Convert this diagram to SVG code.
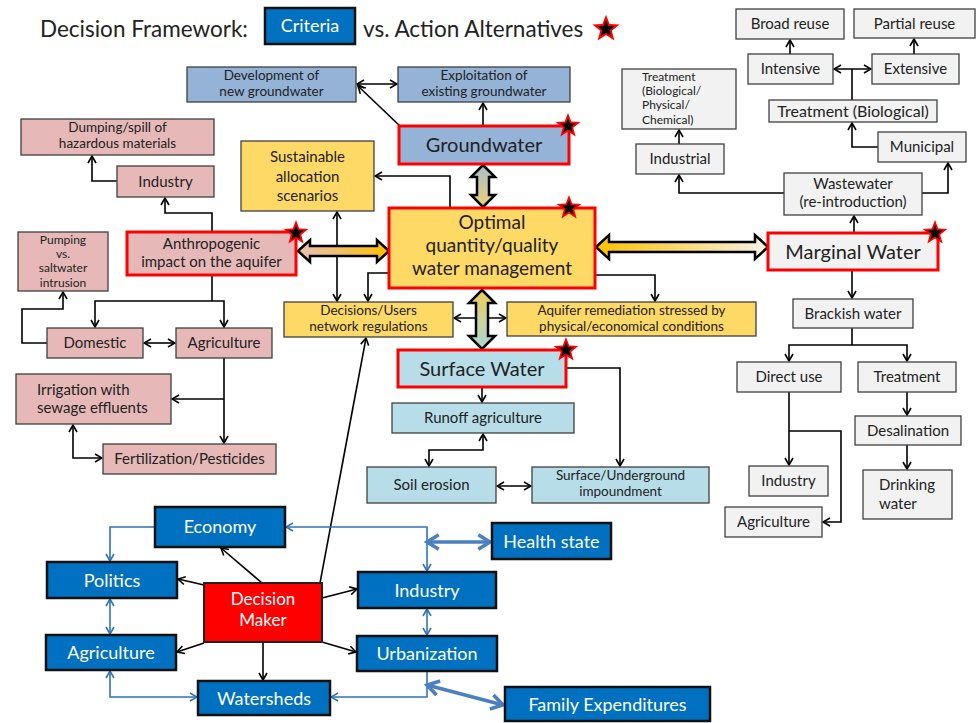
<svg xmlns="http://www.w3.org/2000/svg" xmlns:xlink="http://www.w3.org/1999/xlink" width="977" height="723" viewBox="0 0 977 723">
<style>
text{font-family:Lato,"Liberation Sans",sans-serif;fill:#222;text-anchor:middle;font-size:15px}
.t2{font-size:13.5px}
.t4{font-size:12px}
.b{stroke:#404040;stroke-width:1.3}
.gwb{fill:#95b3d7}.pk{fill:#e6b9b8}.yl{fill:#ffd966}.lb{fill:#b7dee8}.gy{fill:#f2f2f2}
.bl{fill:#0070c0;stroke:#111;stroke-width:2.5}
.rd{stroke:#ff0000;stroke-width:3}
.wt{fill:#fff;font-size:18px}
.big{font-size:20px}
.c{fill:none;stroke:#000;stroke-width:1.6}
.cb{fill:none;stroke:#2e75b6;stroke-width:1.6}
.cbt{fill:none;stroke:#4a7fc0;stroke-width:3.5}
.blk{stroke:#000;stroke-width:2.5}
.st{text-anchor:start}
</style>
<defs>
<marker id="a" viewBox="0 0 10 10" refX="9" refY="5" markerWidth="10" markerHeight="10" markerUnits="userSpaceOnUse" orient="auto-start-reverse"><path d="M2,1 L9,5 L2,9" fill="none" stroke="#000" stroke-width="1.6"/></marker>
<marker id="ab" viewBox="0 0 10 10" refX="9" refY="5" markerWidth="10" markerHeight="10" markerUnits="userSpaceOnUse" orient="auto-start-reverse"><path d="M2,1 L9,5 L2,9" fill="none" stroke="#2e75b6" stroke-width="1.6"/></marker>
<marker id="abt" viewBox="0 0 10 10" refX="8.5" refY="5" markerWidth="18" markerHeight="18" markerUnits="userSpaceOnUse" orient="auto-start-reverse"><path d="M2,1 L8.5,5 L2,9" fill="none" stroke="#4a7fc0" stroke-width="2"/></marker>
<g id="star"><polygon points="0,-13 3.23,-4.45 12.36,-4.02 5.23,1.7 7.64,10.52 0,5.5 -7.64,10.52 -5.23,1.7 -12.36,-4.02 -3.23,-4.45" fill="#ff0000"/><polygon points="0,-8 2,-2.75 7.61,-2.47 3.23,1.05 4.7,6.47 0,3.4 -4.7,6.47 -3.23,1.05 -7.61,-2.47 -2,-2.75" fill="#000"/></g>
<linearGradient id="gGO" x1="0" y1="0" x2="0" y2="1"><stop offset="0" stop-color="#a9bcd2"/><stop offset="1" stop-color="#ecd370"/></linearGradient>
<linearGradient id="gOS" x1="0" y1="0" x2="0" y2="1"><stop offset="0" stop-color="#efcf55"/><stop offset="1" stop-color="#a9d8d8"/></linearGradient>
<linearGradient id="gAO" x1="0" y1="0" x2="1" y2="0"><stop offset="0" stop-color="#e8bfb5"/><stop offset="1" stop-color="#ffc000"/></linearGradient>
<linearGradient id="gOM" x1="0" y1="0" x2="1" y2="0"><stop offset="0" stop-color="#ffc000"/><stop offset="1" stop-color="#f6f2e6"/></linearGradient>
</defs>
<rect width="977" height="723" fill="#fff"/>

<g id="title">
<text x="40" y="37" class="st" style="font-size:22.5px">Decision Framework:</text>
<rect x="265" y="8" width="90" height="36" class="bl"/>
<text x="310" y="32" class="wt" style="font-size:18px">Criteria</text>
<text x="363" y="37" class="st" style="font-size:22.5px">vs. Action Alternatives</text>
<g transform="translate(606,29) scale(1.1)"><use href="#star"/></g>
</g>

<g id="connectors">
<path class="c" d="M483,126 V103" marker-end="url(#a)"/>
<path class="c" d="M401,127 L358,86" marker-end="url(#a)"/>
<path class="c" d="M357,84 H397" marker-start="url(#a)" marker-end="url(#a)"/>
<path class="c" d="M117,181 H92 V156" marker-end="url(#a)"/>
<path class="c" d="M212,232 V213 H165 V198" marker-end="url(#a)"/>
<path class="c" d="M212,275 V301"/>
<path class="c" d="M95,327 V301 H224 V327" marker-start="url(#a)" marker-end="url(#a)"/>
<path class="c" d="M144,343 H175" marker-start="url(#a)" marker-end="url(#a)"/>
<path class="c" d="M47,343 H22 V309 H63 V292" marker-end="url(#a)"/>
<path class="c" d="M224,358 V443" marker-end="url(#a)"/>
<path class="c" d="M224,399 H172" marker-end="url(#a)"/>
<path class="c" d="M73,425 V458 H102" marker-start="url(#a)" marker-end="url(#a)"/>
<path class="c" d="M450,208 V176 H375" marker-end="url(#a)"/>
<path class="c" d="M337,212 V301" marker-start="url(#a)" marker-end="url(#a)"/>
<path class="c" d="M389,273 H368 V301" marker-end="url(#a)"/>
<path class="c" d="M454,318 H506" marker-start="url(#a)" marker-end="url(#a)"/>
<path class="c" d="M595,275 H655 V301" marker-end="url(#a)"/>
<path class="c" d="M566,368 H620 V466" marker-end="url(#a)"/>
<path class="c" d="M482,387 V402" marker-end="url(#a)"/>
<path class="c" d="M483,434 V450 H429 V466" marker-start="url(#a)" marker-end="url(#a)"/>
<path class="c" d="M497,486 H531" marker-start="url(#a)" marker-end="url(#a)"/>
<path class="c" d="M790,54 V40" marker-end="url(#a)"/>
<path class="c" d="M914,54 V39" marker-end="url(#a)"/>
<path class="c" d="M852,100 V69"/>
<path class="c" d="M834,69 H871" marker-start="url(#a)" marker-end="url(#a)"/>
<path class="c" d="M878,147 H852 V123" marker-end="url(#a)"/>
<path class="c" d="M679,144 V130" marker-end="url(#a)"/>
<path class="c" d="M784,193 H679 V175" marker-end="url(#a)"/>
<path class="c" d="M922,193 H948 V163" marker-end="url(#a)"/>
<path class="c" d="M854,233 V216" marker-end="url(#a)"/>
<path class="c" d="M852,270 V298" marker-end="url(#a)"/>
<path class="c" d="M852,328 V345"/>
<path class="c" d="M789,361 V345 H907 V361" marker-start="url(#a)" marker-end="url(#a)"/>
<path class="c" d="M789,392 V465" marker-end="url(#a)"/>
<path class="c" d="M789,431 H841 V522 H823" marker-end="url(#a)"/>
<path class="c" d="M907,392 V415" marker-end="url(#a)"/>
<path class="c" d="M907,445 V469" marker-end="url(#a)"/>
<path class="c" d="M262,583 L221,548" marker-end="url(#a)"/>
<path class="c" d="M204,585 L178,579" marker-end="url(#a)"/>
<path class="c" d="M204,643 L177,652" marker-end="url(#a)"/>
<path class="c" d="M263,642 V680" marker-end="url(#a)"/>
<path class="c" d="M322,598 L357,589" marker-end="url(#a)"/>
<path class="c" d="M322,642 L356,652" marker-end="url(#a)"/>
<path class="c" d="M320,583 L366,338" stroke-width="1.4" marker-end="url(#a)"/>
<path class="cb" d="M155,527 H110 V561" marker-end="url(#ab)"/>
<path class="cb" d="M286,527 H427 V571" marker-start="url(#ab)" marker-end="url(#ab)"/>
<path class="cb" d="M110,599 V634" marker-start="url(#ab)" marker-end="url(#ab)"/>
<path class="cb" d="M427,609 V635" marker-start="url(#ab)" marker-end="url(#ab)"/>
<path class="cb" d="M110,671 V697 H197" marker-start="url(#ab)" marker-end="url(#ab)"/>
<path class="cb" d="M427,672 V697 H331" marker-end="url(#ab)"/>
<path class="cbt" d="M427,542 H490" marker-start="url(#abt)" marker-end="url(#abt)"/>
<path class="cbt" d="M427,685 L503,705" marker-start="url(#abt)" marker-end="url(#abt)"/>
<polygon class="blk" fill="url(#gGO)" points="483,165 495,177 489,177 489,195 495,195 483,207 471,195 477,195 477,177 471,177"/>
<polygon class="blk" fill="url(#gOS)" points="482,290 495,303 488,303 488,336 495,336 482,349 469,336 476,336 476,303 469,303"/>
<polygon class="blk" fill="url(#gAO)" points="298,251 310,240 310,246 377,246 377,240 389,251 377,262 377,256 310,256 310,262"/>
<polygon class="blk" fill="url(#gOM)" points="596,247 609,235 609,242 755,242 755,235 768,247 755,259 755,252 609,252 609,259"/>
</g>

<g id="dev"><rect x="187" y="67" width="169" height="35" class="gwb b"/><text x="271.5" y="79.5" class="t2">Development of</text><text x="271.5" y="95.7" class="t2">new groundwater</text></g>
<g id="exp"><rect x="398" y="67" width="172" height="35" class="gwb b"/><text x="484" y="79.5" class="t2">Exploitation of</text><text x="484" y="95.7" class="t2">existing groundwater</text></g>
<g id="gw"><rect x="399" y="126" width="170" height="38" class="gwb rd"/><text x="484" y="152" class="big">Groundwater</text><use href="#star" x="568" y="126"/></g>
<g id="dump"><rect x="21" y="119" width="193" height="36" class="pk b"/><text x="117.5" y="132" class="t2">Dumping/spill of</text><text x="117.5" y="148.2" class="t2">hazardous materials</text></g>
<g id="indP"><rect x="117" y="166" width="97" height="31" class="pk b"/><text x="165.5" y="186.5">Industry</text></g>
<g id="anth"><rect x="127" y="232" width="169" height="43" class="pk rd"/><text x="211.5" y="248.5">Anthropogenic</text><text x="211.5" y="266.5">impact on the aquifer</text><use href="#star" x="296" y="233"/></g>
<g id="pump"><rect x="18" y="232" width="90" height="59" class="pk b"/><text x="63" y="243.5" class="t4">Pumping</text><text x="63" y="257.9" class="t4">vs.</text><text x="63" y="272.3" class="t4">saltwater</text><text x="63" y="286.7" class="t4">intrusion</text></g>
<g id="dom"><rect x="47" y="328" width="96" height="30" class="pk b"/><text x="95" y="348">Domestic</text></g>
<g id="agrP"><rect x="176" y="328" width="96" height="30" class="pk b"/><text x="224" y="348">Agriculture</text></g>
<g id="irr"><rect x="16" y="374" width="155" height="50" class="pk b"/><text x="37" y="395" class="st">Irrigation with</text><text x="37" y="413" class="st">sewage effluents</text></g>
<g id="fert"><rect x="103" y="444" width="173" height="30" class="pk b"/><text x="189.5" y="464">Fertilization/Pesticides</text></g>
<g id="sust"><rect x="241" y="141" width="133" height="70" class="yl b"/><text x="307.5" y="162">Sustainable</text><text x="307.5" y="182">allocation</text><text x="307.5" y="201">scenarios</text></g>
<g id="opt"><rect x="389" y="208" width="206" height="80" class="yl rd"/><text x="492" y="229" style="font-size:19px">Optimal</text><text x="492" y="251.8" style="font-size:19px">quantity/quality</text><text x="492" y="274.6" style="font-size:19px">water management</text><use href="#star" x="569" y="208"/></g>
<g id="dec"><rect x="284" y="302" width="169" height="35" class="yl b"/><text x="368.5" y="314.5" class="t2">Decisions/Users</text><text x="368.5" y="330.7" class="t2">network regulations</text></g>
<g id="aqu"><rect x="507" y="302" width="249" height="34" class="yl b"/><text x="631.5" y="314.5" class="t2">Aquifer remediation stressed by</text><text x="631.5" y="330.7" class="t2">physical/economical conditions</text></g>
<g id="surf"><rect x="398" y="350" width="168" height="37" class="lb rd"/><text x="482" y="375.5" class="big">Surface Water</text><use href="#star" x="566" y="350"/></g>
<g id="run"><rect x="392" y="403" width="182" height="30" class="lb b"/><text x="483" y="423">Runoff agriculture</text></g>
<g id="soil"><rect x="367" y="467" width="129" height="36" class="lb b"/><text x="431.5" y="490">Soil erosion</text></g>
<g id="imp"><rect x="532" y="467" width="177" height="36" class="lb b"/><text x="620.5" y="480" class="t2">Surface/Underground</text><text x="620.5" y="496.2" class="t2">impoundment</text></g>
<g id="broad"><rect x="736" y="9" width="108" height="30" class="gy b"/><text x="790" y="29">Broad reuse</text></g>
<g id="partial"><rect x="854" y="9" width="121" height="29" class="gy b"/><text x="914.5" y="28.5">Partial reuse</text></g>
<g id="intens"><rect x="748" y="54" width="85" height="30" class="gy b"/><text x="790.5" y="74">Intensive</text></g>
<g id="extens"><rect x="872" y="54" width="87" height="30" class="gy b"/><text x="915.5" y="74">Extensive</text></g>
<g id="treatB"><rect x="769" y="100" width="168" height="22" class="gy b"/><text x="853" y="116.5" style="font-size:16px">Treatment (Biological)</text></g>
<g id="munic"><rect x="878" y="132" width="88" height="30" class="gy b"/><text x="922" y="152">Municipal</text></g>
<g id="treatC"><rect x="622" y="69" width="114" height="60" class="gy b"/><text x="642" y="80.5" class="st t4">Treatment</text><text x="642" y="94.9" class="st t4">(Biological/</text><text x="642" y="109.3" class="st t4">Physical/</text><text x="642" y="123.7" class="st t4">Chemical)</text></g>
<g id="indusR"><rect x="636" y="144" width="88" height="30" class="gy b"/><text x="680" y="164">Industrial</text></g>
<g id="waste"><rect x="784" y="173" width="138" height="42" class="gy b"/><text x="853" y="189">Wastewater</text><text x="853" y="207">(re-introduction)</text></g>
<g id="marg"><rect x="768" y="233" width="170" height="37" class="gy rd"/><text x="853" y="258.5" class="big">Marginal Water</text><use href="#star" x="935" y="233"/></g>
<g id="brack"><rect x="793" y="299" width="120" height="29" class="gy b"/><text x="853" y="318.5">Brackish water</text></g>
<g id="direct"><rect x="737" y="362" width="104" height="30" class="gy b"/><text x="789" y="382">Direct use</text></g>
<g id="treat"><rect x="858" y="362" width="98" height="30" class="gy b"/><text x="907" y="382">Treatment</text></g>
<g id="desal"><rect x="855" y="416" width="106" height="29" class="gy b"/><text x="908" y="435.5">Desalination</text></g>
<g id="drink"><rect x="863" y="470" width="89" height="49" class="gy b"/><text x="907" y="490">Drinking</text><text x="879" y="509" class="st">water</text></g>
<g id="indG"><rect x="749" y="466" width="79" height="30" class="gy b"/><text x="788.5" y="486">Industry</text></g>
<g id="agrG"><rect x="725" y="507" width="97" height="30" class="gy b"/><text x="773.5" y="527">Agriculture</text></g>
<g id="econ"><rect x="155" y="507" width="130" height="40" class="bl"/><text x="220" y="533" class="wt">Economy</text></g>
<g id="pol"><rect x="47" y="562" width="130" height="36" class="bl"/><text x="112" y="586.5" class="wt">Politics</text></g>
<g id="agrB"><rect x="46" y="635" width="130" height="35" class="bl"/><text x="111" y="659" class="wt">Agriculture</text></g>
<g id="watershed"><rect x="198" y="681" width="132" height="34" class="bl"/><text x="264" y="704.5" class="wt">Watersheds</text></g>
<g id="dm"><rect x="204" y="583" width="118" height="59" fill="#ff0000" stroke="#222" stroke-width="2"/><text x="263" y="605" class="wt" style="font-size:17px">Decision</text><text x="263" y="626" class="wt" style="font-size:17px">Maker</text></g>
<g id="indB"><rect x="358" y="572" width="138" height="36" class="bl"/><text x="427" y="596.5" class="wt">Industry</text></g>
<g id="urb"><rect x="357" y="636" width="140" height="35" class="bl"/><text x="427" y="660" class="wt">Urbanization</text></g>
<g id="health"><rect x="492" y="523" width="119" height="36" class="bl"/><text x="551.5" y="547.5" class="wt">Health state</text></g>
<g id="family"><rect x="505" y="687" width="205" height="34" class="bl"/><text x="607.5" y="711" class="wt">Family Expenditures</text></g>
</svg>
